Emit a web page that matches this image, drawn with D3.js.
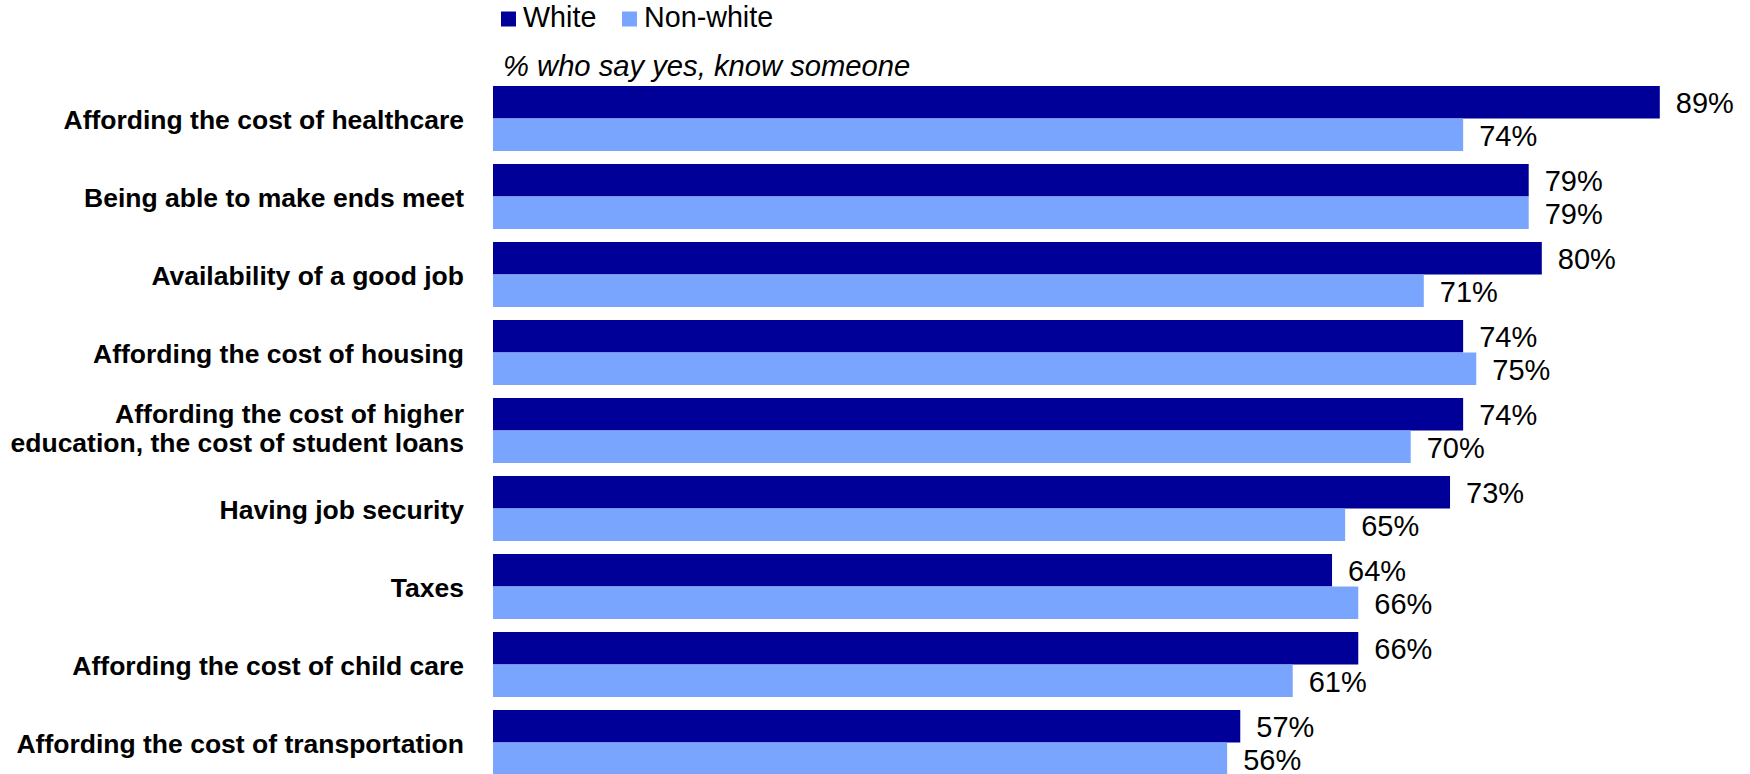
<!DOCTYPE html>
<html><head><meta charset="utf-8">
<script src="https://cdn.jsdelivr.net/npm/d3@7"></script>
<style>
html,body{margin:0;padding:0;background:#fff;}
svg{display:block;font-family:"Liberation Sans",Arial,sans-serif;}
</style></head>
<body>
<svg id="chart" width="1750" height="774"></svg>
<script>
const categories = [
  ["Affording the cost of healthcare"],
  ["Being able to make ends meet"],
  ["Availability of a good job"],
  ["Affording the cost of housing"],
  ["Affording the cost of higher", "education, the cost of student loans"],
  ["Having job security"],
  ["Taxes"],
  ["Affording the cost of child care"],
  ["Affording the cost of transportation"]
];
const seriesNames = ["White", "Non-white"];
const whiteValues = [89, 79, 80, 74, 74, 73, 64, 66, 57];
const nonWhiteValues = [74, 79, 71, 75, 70, 65, 66, 61, 56];
const colors = ["#000099", "#7aa5ff"];
const subtitle = "% who say yes, know someone";

const svg = d3.select("#chart");
const keys = categories.map((c, i) => i);
const x = d3.scaleLinear().domain([0, 100]).range([493, 493 + 1311]);
const y = d3.scaleBand().domain(keys).range([86, 86 + 78 * 9 - 13]).paddingInner(13 / 78).paddingOuter(0);
const ys = d3.scaleBand().domain(seriesNames).range([0, y.bandwidth()]);
const color = d3.scaleOrdinal().domain(seriesNames).range(colors);
const seriesValues = [whiteValues, nonWhiteValues];

const rows = [];
keys.forEach(i => seriesNames.forEach((s, j) => rows.push({i, s, v: seriesValues[j][i]})));

svg.append("g").selectAll("rect").data(rows).join("rect")
  .attr("x", x(0))
  .attr("y", d => y(d.i) + ys(d.s))
  .attr("width", d => x(d.v) - x(0))
  .attr("height", ys.bandwidth())
  .attr("fill", d => color(d.s));

svg.append("g").selectAll("text").data(rows).join("text")
  .attr("x", d => x(d.v) + 16)
  .attr("y", d => y(d.i) + ys(d.s) + ys.bandwidth() / 2 + 11)
  .attr("font-size", 29)
  .attr("fill", "#000")
  .text(d => d.v + "%");

// category labels
const lab = svg.append("g").selectAll("text").data(keys).join("text")
  .attr("text-anchor", "end")
  .attr("font-weight", "bold")
  .attr("font-size", 26.5)
  .attr("fill", "#000");
lab.each(function(i) {
  const lines = categories[i];
  const c = y(i) + y.bandwidth() / 2;
  const t = d3.select(this);
  if (lines.length === 1) {
    t.append("tspan").attr("x", 464).attr("y", c + 10).text(lines[0]);
  } else {
    t.append("tspan").attr("x", 464).attr("y", c - 8).text(lines[0]);
    t.append("tspan").attr("x", 464).attr("y", c + 21.5).text(lines[1]);
  }
});

// legend
const legendX = [501, 622];
const lg = svg.append("g").selectAll("g").data(seriesNames).join("g")
  .attr("transform", (d, i) => `translate(${legendX[i]},0)`);
lg.append("rect").attr("x", 0).attr("y", 11.5).attr("width", 15).attr("height", 15).attr("fill", d => color(d));
lg.append("text").attr("x", 22).attr("y", 27).attr("font-size", 28.7).attr("fill", "#000").text(d => d);

svg.append("text").attr("x", 503).attr("y", 76).attr("font-size", 29.2)
  .attr("font-style", "italic").attr("fill", "#000").text(subtitle);
</script>
</body></html>
